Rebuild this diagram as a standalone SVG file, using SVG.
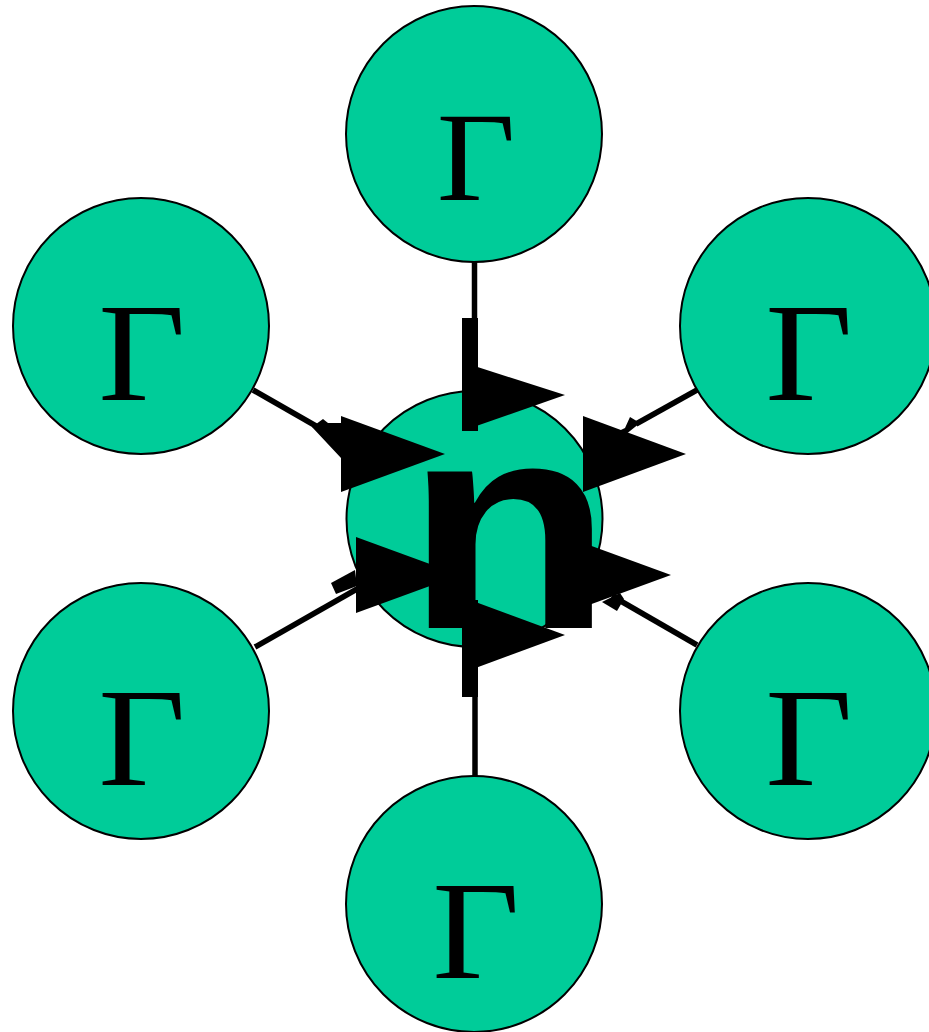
<svg xmlns="http://www.w3.org/2000/svg" width="929" height="1032" viewBox="0 0 929 1032">
<style>
.node{fill:#00CC99;stroke:#000;stroke-width:2}
.g{font-family:"Liberation Serif","Times New Roman",serif;font-size:140px;fill:#000;text-anchor:middle}
.n{font-family:"Liberation Sans",Arial,sans-serif;font-weight:bold;font-size:296px;fill:#000;text-anchor:middle}
.ln{stroke:#000;stroke-width:5.5;fill:none}
.hd{fill:#000;stroke:none}
</style>
<rect width="929" height="1032" fill="#fff"/>
<g id="connectors">
<line class="ln" x1="474.5" y1="262" x2="474.5" y2="320"/>
<line class="ln" x1="253" y1="390" x2="316" y2="426"/>
<line class="ln" x1="697" y1="390" x2="636" y2="424"/>
<line class="ln" x1="255" y1="647" x2="357" y2="589"/>
<line class="ln" x1="697" y1="645" x2="612" y2="596"/>
<line class="ln" x1="475" y1="776" x2="475" y2="695"/>
</g>
<g id="center">
<circle class="node" cx="474.5" cy="519" r="128"/>
</g>
<g id="arrowheads">
<rect class="hd" x="462" y="318" width="16" height="113"/>
<polygon class="hd" points="462,362 565,395 462,431"/>
<polygon class="hd" points="312,427 323,419 328,423 341,423 341,458"/>
<polygon class="hd" points="341,416 445,454 341,492"/>
<polygon class="hd" points="640,423 630,417 625,428 600,440 610,447"/>
<polygon class="hd" points="583,416 686,454 583,492"/>
<polygon class="hd" points="331,583 355,570 357,586 336,594"/>
<polygon class="hd" points="356,537 460,575 356,613"/>
<polygon class="hd" points="602,602 617,611 624,599 620,593"/>
<polygon class="hd" points="567,537 671,575 567,613"/>
<rect class="hd" x="462" y="600" width="16" height="97"/>
<polygon class="hd" points="462,597 565,635 462,673"/>
</g>
<g id="center-label">
<text class="n" transform="translate(509,628) scale(1.15,1)" x="0" y="0">n</text>
</g>
<g id="node-top"><circle class="node" cx="474" cy="134" r="128"/><text class="g" transform="translate(476,200) scale(1.08,1)" style="font-size:126px">Γ</text></g>
<g id="node-ul"><circle class="node" cx="141" cy="326" r="128"/><text class="g" transform="translate(142,400) scale(1.08,1)">Γ</text></g>
<g id="node-ur"><circle class="node" cx="808" cy="326" r="128"/><text class="g" transform="translate(809,400) scale(1.08,1)">Γ</text></g>
<g id="node-ll"><circle class="node" cx="141" cy="711" r="128"/><text class="g" transform="translate(142,785) scale(1.08,1)">Γ</text></g>
<g id="node-lr"><circle class="node" cx="808" cy="711" r="128"/><text class="g" transform="translate(809,785) scale(1.08,1)">Γ</text></g>
<g id="node-bottom"><circle class="node" cx="474" cy="904" r="128"/><text class="g" transform="translate(476,978) scale(1.08,1)">Γ</text></g>
</svg>
